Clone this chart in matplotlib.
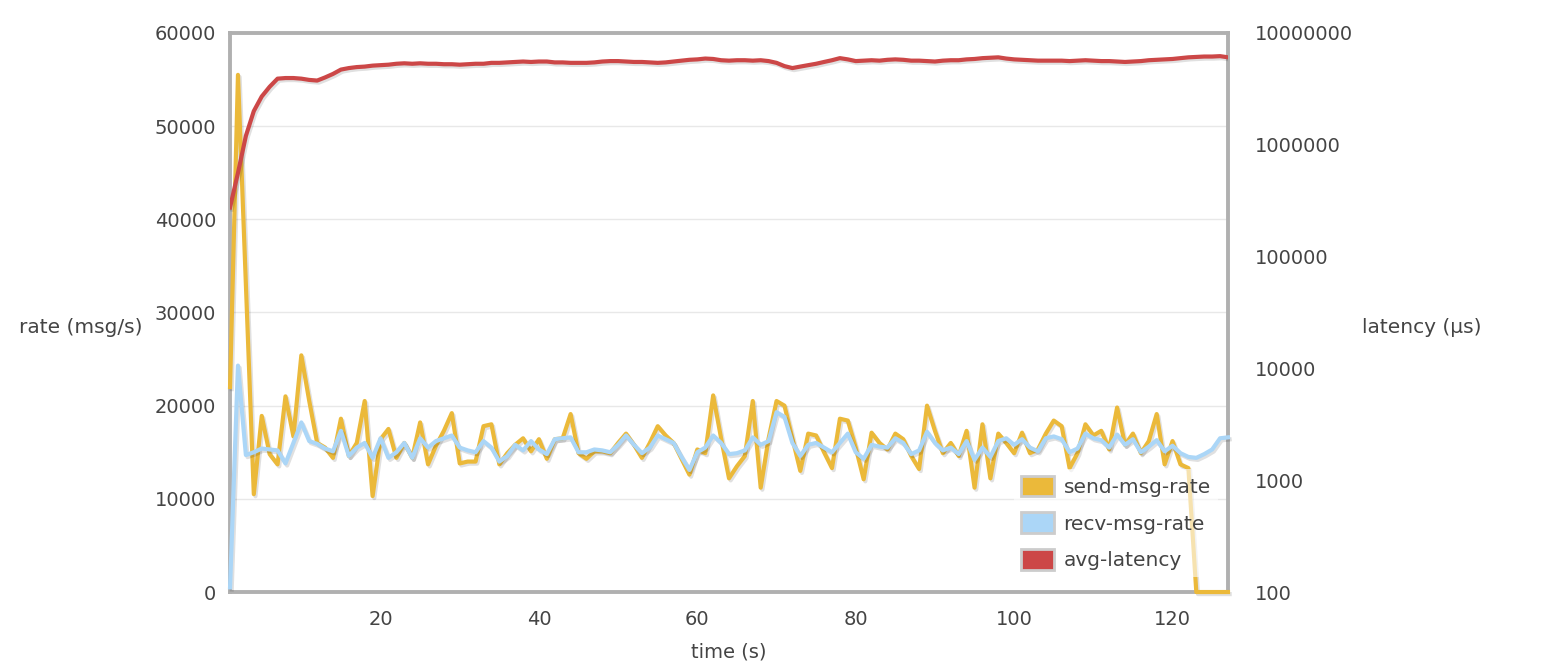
import numpy as np
import matplotlib
matplotlib.use("Agg")
import matplotlib.pyplot as plt
import matplotlib.patheffects as pe
from matplotlib.patches import Patch
from matplotlib.ticker import FixedLocator, FixedFormatter

# time axis: one sample per second
time_s = np.arange(1, 128)

send_rate = [
    22000, 55500, 33000, 10500, 18900, 14800, 13700, 21000, 16700, 25400,
    20500, 16000, 15500, 14400, 18600, 14600, 16000, 20500, 10300, 16400,
    17500, 14400, 16000, 14400, 18200, 13700, 15700, 17300, 19200, 13800,
    14000, 14000, 17800, 18000, 13700, 14900, 15800, 16500, 15100, 16400,
    14300, 16400, 16500, 19100, 14900, 14300, 15100, 15100, 14900, 16000,
    17000, 15800, 14400, 16000, 17800, 16800, 16000, 14300, 12600, 15300,
    14900, 21100, 16500, 12200, 13500, 14600, 20500, 11200, 16500, 20500,
    20000, 16500, 13000, 17000, 16800, 15000, 13300, 18600, 18400, 15500,
    12100, 17100, 16000, 15300, 17000, 16400, 14600, 13200, 20000, 17300,
    14900, 16000, 14600, 17300, 11200, 18000, 12200, 17000, 16000, 14900,
    17100, 14900, 15300, 17000, 18400, 17800, 13300, 14900, 18000, 16800,
    17300, 15300, 19800, 15800, 17000, 14900, 16200, 19100, 13700, 16200,
    13700, 13300, 0, 0, 0, 0, 0,
]

recv_rate = [
    500, 24300, 14700, 15000, 15400, 15300, 15200, 13800, 16000, 18200,
    16200, 15900, 15400, 15100, 17300, 14600, 15500, 16000, 14400, 16500,
    14400, 15000, 16000, 14400, 16500, 15500, 16200, 16500, 16800, 15500,
    15200, 15000, 16200, 15500, 14000, 14600, 15800, 15200, 16200, 15300,
    14800, 16400, 16500, 16600, 15000, 15000, 15300, 15200, 15000, 15800,
    16800, 15800, 14900, 15500, 16800, 16400, 16000, 14500, 13100, 15000,
    15500, 16800, 16000, 14800, 14900, 15200, 16600, 15800, 16200, 19300,
    18800, 16000, 14600, 15800, 16000, 15500, 15000, 16000, 17000, 15000,
    14300, 15800, 15600, 15500, 16500, 16000, 14800, 15200, 17200, 16000,
    15200, 15500, 14800, 16200, 14200, 15500, 14500, 16200, 16500, 15800,
    16400, 15500, 15100, 16500, 16700, 16400, 15000, 15400, 17000, 16500,
    16300, 15500, 16900, 15800, 16400, 15000, 15600, 16300, 15100, 15700,
    14900, 14500, 14400, 14800, 15300, 16500, 16600,
]

avg_latency = [
    275000, 560000, 1200000, 2000000, 2700000, 3300000, 3900000, 3950000, 3950000, 3900000,
    3800000, 3750000, 4000000, 4300000, 4700000, 4850000, 4950000, 5000000, 5100000, 5150000,
    5200000, 5300000, 5350000, 5300000, 5350000, 5300000, 5300000, 5250000, 5250000, 5200000,
    5250000, 5300000, 5300000, 5400000, 5400000, 5450000, 5500000, 5550000, 5500000, 5550000,
    5550000, 5450000, 5450000, 5400000, 5400000, 5400000, 5450000, 5550000, 5600000, 5600000,
    5550000, 5500000, 5500000, 5450000, 5400000, 5450000, 5550000, 5650000, 5750000, 5800000,
    5900000, 5850000, 5700000, 5650000, 5700000, 5700000, 5650000, 5700000, 5600000, 5400000,
    5050000, 4850000, 5000000, 5150000, 5300000, 5500000, 5700000, 5950000, 5800000, 5600000,
    5650000, 5700000, 5650000, 5750000, 5800000, 5750000, 5650000, 5650000, 5600000, 5550000,
    5650000, 5700000, 5700000, 5800000, 5850000, 5950000, 6000000, 6050000, 5900000, 5800000,
    5750000, 5700000, 5650000, 5650000, 5650000, 5650000, 5600000, 5650000, 5700000, 5650000,
    5600000, 5600000, 5550000, 5500000, 5550000, 5600000, 5700000, 5750000, 5800000, 5850000,
    5950000, 6050000, 6100000, 6150000, 6150000, 6200000, 6050000,
]

rate_ticks = [0, 10000, 20000, 30000, 40000, 50000, 60000]
latency_ticks = [100, 1000, 10000, 100000, 1000000, 10000000]
time_ticks = [20, 40, 60, 80, 100, 120]

SEND_COLOR = "#ebb93a"
RECV_COLOR = "#abd6f7"
LAT_COLOR = "#cc4747"
TEXT_COLOR = "#444444"
FRAME_COLOR = "#b0b0b0"
FS = 14

shadow = [pe.SimpleLineShadow(offset=(1.2, -1.5), shadow_color="k", alpha=0.12),
          pe.Normal()]

fig = plt.figure(figsize=(15.46, 6.72), dpi=100)
fig.patch.set_facecolor("white")
ax = fig.add_axes([0.1488, 0.119, 0.6455, 0.832])
ax2 = ax.twinx()

ax.plot(time_s, send_rate, color=SEND_COLOR, lw=3, path_effects=shadow, zorder=3,
        clip_on=False)
ax.plot(time_s, recv_rate, color=RECV_COLOR, lw=3, path_effects=shadow, zorder=4,
        clip_on=False)
ax2.plot(time_s, avg_latency, color=LAT_COLOR, lw=3, path_effects=shadow, zorder=3)

ax.set_xlim(1, 127)
ax.set_ylim(0, 60000)
ax.set_yticks(rate_ticks)
ax.set_xticks(time_ticks)
ax.grid(axis="y", color="#e8e8e8", linewidth=1)
ax.set_axisbelow(True)

ax2.set_yscale("log")
ax2.set_ylim(100, 10000000)
ax2.yaxis.set_major_locator(FixedLocator(latency_ticks))
ax2.yaxis.set_major_formatter(FixedFormatter([str(v) for v in latency_ticks]))
ax2.yaxis.set_minor_locator(FixedLocator([]))

for a in (ax, ax2):
    a.tick_params(length=0, labelsize=FS, labelcolor=TEXT_COLOR)
for sp in ax.spines.values():
    sp.set_color(FRAME_COLOR)
    sp.set_linewidth(2.8)
    sp.set_zorder(2)
# the frame is drawn once, under the rate lines
for sp in ax2.spines.values():
    sp.set_visible(False)
ax.tick_params(axis="y", pad=10)
ax.tick_params(axis="x", pad=13)
ax2.tick_params(axis="y", pad=19)

fig.text(0.0125, 0.512, "rate (msg/s)", fontsize=14.5, color=TEXT_COLOR, va="center", ha="left")
fig.text(0.881, 0.512, "latency (µs)", fontsize=14.5, color=TEXT_COLOR, va="center", ha="left")
ax.set_xlabel("time (s)", fontsize=FS, color=TEXT_COLOR, labelpad=10)

handles = [
    Patch(facecolor=SEND_COLOR, edgecolor="#cccccc", linewidth=2, label="send-msg-rate"),
    Patch(facecolor=RECV_COLOR, edgecolor="#cccccc", linewidth=2, label="recv-msg-rate"),
    Patch(facecolor=LAT_COLOR, edgecolor="#cccccc", linewidth=2, label="avg-latency"),
]
leg = ax2.legend(handles=handles, loc="lower right", bbox_to_anchor=(1.0, 0.008),
                 fontsize=14.5, frameon=True, facecolor="white", edgecolor="none",
                 framealpha=0.6, handlelength=1.6, handleheight=1.2,
                 handletextpad=0.5, labelspacing=0.78, borderpad=0.35)
for t in leg.get_texts():
    t.set_color(TEXT_COLOR)
leg.set_zorder(20)

fig.savefig("out.png", dpi=100, facecolor="white")
